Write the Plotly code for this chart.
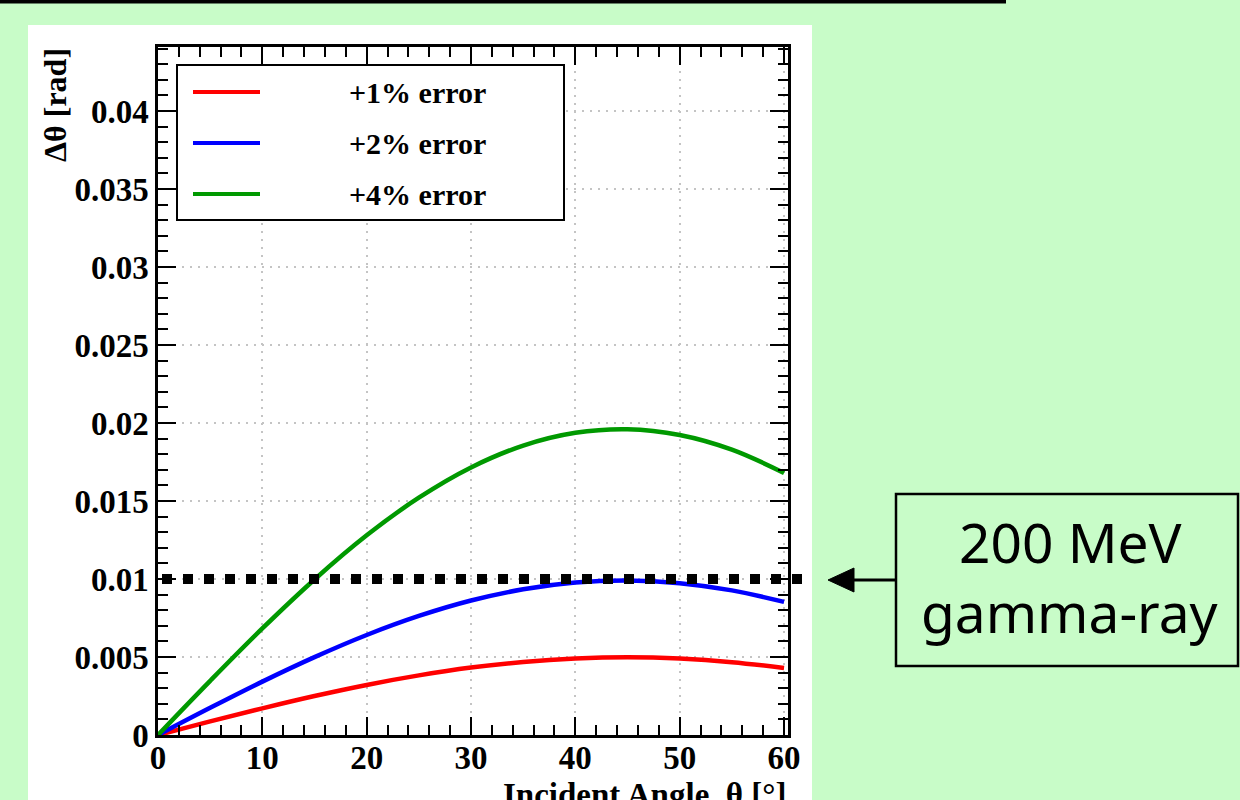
import plotly.graph_objects as go

# Incident angle samples (degrees)
angle_deg = [0, 5, 10, 15, 20, 25, 30, 35, 40, 45, 50, 55, 60]

# Angular deviation for each energy-scale error (rad)
err_1pct = [0.0, 0.00087, 0.00171, 0.00250, 0.00321, 0.00382, 0.00432, 0.00468,
            0.00490, 0.00498, 0.00490, 0.00467, 0.00430]
err_2pct = [0.0, 0.00174, 0.00342, 0.00499, 0.00641, 0.00763, 0.00862, 0.00934,
            0.00977, 0.00990, 0.00973, 0.00927, 0.00853]
err_4pct = [0.0, 0.00347, 0.00683, 0.00997, 0.01280, 0.01521, 0.01715, 0.01855,
            0.01937, 0.01960, 0.01923, 0.01829, 0.01680]

series_names = ["+1% error", "+2% error", "+4% error"]
series_colors = ["#ff0000", "#0000ff", "#009900"]

# PSF reference level for a 200 MeV gamma-ray (rad)
psf_200mev = 0.01

x_ticks = [0, 10, 20, 30, 40, 50, 60]
y_ticks = [0, 0.005, 0.01, 0.015, 0.02, 0.025, 0.03, 0.035, 0.04]
y_ticktext = ["0", "0.005", "0.01", "0.015", "0.02", "0.025", "0.03", "0.035", "0.04"]

W, H = 1240, 800
L, R, T, B = 158, 788, 47, 735
BG = "#c8fcc8"
SERIF = "Liberation Serif"


def px(x):
    return (x - L) / (R - L)


def py(y):
    return (B - y) / (B - T)


fig = go.Figure()
for ys, name, col in zip([err_1pct, err_2pct, err_4pct], series_names, series_colors):
    fig.add_trace(go.Scatter(x=angle_deg, y=ys, mode="lines", name=name,
                             line=dict(color=col, width=4.5, shape="spline"),
                             showlegend=False))

axis_common = dict(
    showline=True, linewidth=2.5, linecolor="black", mirror="allticks",
    ticks="inside", ticklen=18, tickwidth=2, tickcolor="black",
    showgrid=True, gridcolor="#c4c4c4", gridwidth=2, griddash="2px,6px",
    zeroline=False,
    tickfont=dict(family=SERIF, size=33, color="black", weight="bold"),
)

fig.update_xaxes(range=[0, 60.38], tickvals=x_ticks, ticklabelstandoff=-8,
                 minor=dict(ticks="inside", ticklen=10, tickwidth=2,
                            tickcolor="black", dtick=2, tick0=0, showgrid=False),
                 **axis_common)
fig.update_yaxes(range=[0, 0.0441], tickvals=y_ticks, ticktext=y_ticktext,
                 minor=dict(ticks="inside", ticklen=10, tickwidth=2,
                            tickcolor="black", dtick=0.001, tick0=0, showgrid=False),
                 **axis_common)

shapes = []
# top rule of the slide
shapes.append(dict(type="rect", xref="paper", yref="paper", layer="below",
                   x0=px(0), x1=px(1006), y0=py(0), y1=py(3.5),
                   fillcolor="black", line=dict(width=0)))
# white figure panel
shapes.append(dict(type="rect", xref="paper", yref="paper", layer="below",
                   x0=px(28), x1=px(812), y0=py(25), y1=py(800),
                   fillcolor="white", line=dict(width=0)))
# reference level line (square dots, drawn over the curves)
shapes.append(dict(type="line", xref="paper", yref="y", layer="above",
                   x0=px(162), x1=px(812), y0=psf_200mev, y1=psf_200mev,
                   line=dict(color="black", width=10, dash="10px,11px")))
# legend box
shapes.append(dict(type="rect", xref="paper", yref="paper", layer="above",
                   x0=px(177), x1=px(564), y0=py(65), y1=py(220),
                   fillcolor="white", line=dict(color="black", width=2)))
leg_y = [92, 143, 194]
for yy, col in zip(leg_y, series_colors):
    shapes.append(dict(type="line", xref="paper", yref="paper", layer="above",
                       x0=px(193), x1=px(260), y0=py(yy), y1=py(yy),
                       line=dict(color=col, width=4)))
# callout arrow and box
shapes.append(dict(type="line", xref="paper", yref="paper", layer="above",
                   x0=px(850), x1=px(896), y0=py(580), y1=py(580),
                   line=dict(color="black", width=3)))
shapes.append(dict(type="path", xref="paper", yref="paper", layer="above",
                   path=f"M {px(828)},{py(580)} L {px(854)},{py(568)} "
                        f"L {px(854)},{py(592)} Z",
                   fillcolor="black", line=dict(color="black", width=1)))
shapes.append(dict(type="rect", xref="paper", yref="paper", layer="above",
                   x0=px(896), x1=px(1238), y0=py(494), y1=py(666),
                   line=dict(color="black", width=2.5)))

annotations = []
for yy, name in zip(leg_y, series_names):
    annotations.append(dict(text=f"<b>{name}</b>", xref="paper", yref="paper",
                            x=px(347), y=py(yy), xanchor="left", yanchor="middle",
                            showarrow=False,
                            font=dict(family=SERIF, size=30, color="black")))
annotations.append(dict(text="<b>Δθ [rad]</b>", xref="paper", yref="paper",
                        x=px(55), y=py(46), xanchor="center", yanchor="top",
                        textangle=-90, showarrow=False,
                        font=dict(family=SERIF, size=32, color="black")))
annotations.append(dict(text="<b>Incident Angle  θ [°]</b>", xref="paper", yref="paper",
                        x=px(788), y=py(775), xanchor="right", yanchor="top",
                        showarrow=False,
                        font=dict(family=SERIF, size=33, color="black")))
annotations.append(dict(text="200 MeV", xref="paper", yref="paper",
                        x=px(1070), y=py(541), xanchor="center", yanchor="middle",
                        showarrow=False,
                        font=dict(family="Noto Sans", size=55, color="black")))
annotations.append(dict(text="gamma-ray", xref="paper", yref="paper",
                        x=px(1070), y=py(611), xanchor="center", yanchor="middle",
                        showarrow=False,
                        font=dict(family="Noto Sans", size=55, color="black")))

fig.update_layout(
    width=W, height=H,
    margin=dict(l=L, r=W - R, t=T, b=H - B, pad=0),
    paper_bgcolor=BG, plot_bgcolor="white",
    shapes=shapes, annotations=annotations,
    showlegend=False,
)

fig.write_html("out.html")
